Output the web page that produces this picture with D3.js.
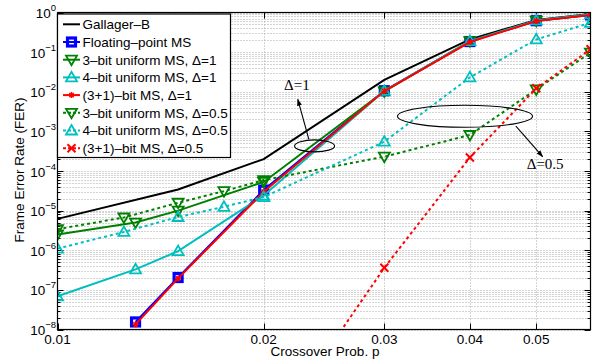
<!DOCTYPE html>
<html>
<head>
<meta charset="utf-8">
<script src="https://cdn.jsdelivr.net/npm/d3@7"></script>
<style>
  body { margin: 0; background: #fff; }
  svg { display: block; font-family: "Liberation Sans", Arial, sans-serif; }
</style>
</head>
<body>
<div id="chart"></div>
<script>
// crossover probabilities used by the different runs
const pGallager = [0.01, 0.015, 0.02, 0.03, 0.04, 0.05, 0.06];
const pFloat = [0.013, 0.015, 0.02, 0.03, 0.04, 0.05, 0.06];
const pDelta1 = [0.01, 0.013, 0.015, 0.02, 0.03, 0.04, 0.05, 0.06];
const pDelta05 = [0.01, 0.0125, 0.015, 0.0175, 0.02, 0.03, 0.04, 0.05, 0.06];
const pPlus1Delta05 = [0.025, 0.03, 0.04, 0.05, 0.06];

// frame error rates
const ferGallager = [6.2e-6, 3.4e-5, 2.0e-4, 0.02, 0.21, 0.65, 0.92];
const ferFloat = [1.55e-8, 2.05e-7, 3.3e-5, 0.0106, 0.185, 0.62, 0.87];
const fer3bitD1 = [2.5e-6, 5.0e-6, 1.0e-5, 5.3e-5, 0.0102, 0.19, 0.62, 0.88];
const fer4bitD1 = [6.9e-8, 3.3e-7, 9.5e-7, 2.4e-5, 0.0105, 0.19, 0.63, 0.9];
const ferPlus1D1 = [1.35e-8, 1.95e-7, 3.0e-5, 0.0104, 0.18, 0.61, 0.87];
const fer3bitD05 = [3.4e-6, 6.7e-6, 1.58e-5, 3.1e-5, 5.9e-5, 2.3e-4, 8.1e-4, 0.0115, 0.097];
const fer4bitD05 = [1.1e-6, 2.9e-6, 6.9e-6, 1.25e-5, 2.2e-5, 5.5e-4, 0.023, 0.21, 0.55];
const ferPlus1D05 = [3.7e-9, 3.6e-7, 2.2e-4, 0.0122, 0.118];

const xTicks = [0.01, 0.02, 0.03, 0.04, 0.05];
const yDecades = [-8, -7, -6, -5, -4, -3, -2, -1, 0];

const GREEN = "#008000", CYAN = "#00bfbf";

const series = [
  { name: "Gallager\u2013B", p: pGallager, fer: ferGallager, color: "#000", dash: null, marker: null },
  { name: "Floating\u2013point MS", p: pFloat, fer: ferFloat, color: "#0000ff", dash: null, marker: "square" },
  { name: "3\u2013bit uniform MS, \u0394=1", p: pDelta1, fer: fer3bitD1, color: GREEN, dash: null, marker: "tridown" },
  { name: "4\u2013bit uniform MS, \u0394=1", p: pDelta1, fer: fer4bitD1, color: CYAN, dash: null, marker: "triup" },
  { name: "(3+1)\u2013bit MS, \u0394=1", p: pFloat, fer: ferPlus1D1, color: "#ff0000", dash: null, marker: "star" },
  { name: "3\u2013bit uniform MS, \u0394=0.5", p: pDelta05, fer: fer3bitD05, color: GREEN, dash: "3,3", marker: "tridown" },
  { name: "4\u2013bit uniform MS, \u0394=0.5", p: pDelta05, fer: fer4bitD05, color: CYAN, dash: "3,3", marker: "triup" },
  { name: "(3+1)\u2013bit MS, \u0394=0.5", p: pPlus1Delta05, fer: ferPlus1D05, color: "#ff0000", dash: "3,3", marker: "x" }
];

const width = 602, height = 364;
const plotLeft = 57.5, plotRight = 590.5, plotTop = 12.5, plotBottom = 329.5;

const x = d3.scaleLog().domain([0.01, 0.06]).range([plotLeft, plotRight]);
const y = d3.scaleLog().domain([1e-8, 1]).range([plotBottom, plotTop]);

const svg = d3.select("#chart").append("svg")
  .attr("width", width)
  .attr("height", height);

const defs = svg.append("defs");
defs.append("clipPath").attr("id", "plot")
  .append("rect")
  .attr("x", plotLeft).attr("y", plotTop)
  .attr("width", plotRight - plotLeft).attr("height", plotBottom - plotTop);

defs.append("marker")
  .attr("id", "arrow")
  .attr("viewBox", "0 0 10 10")
  .attr("refX", 9).attr("refY", 5)
  .attr("markerWidth", 7).attr("markerHeight", 7)
  .attr("markerUnits", "userSpaceOnUse")
  .attr("orient", "auto")
  .append("path")
  .attr("d", "M0,1.5 L10,5 L0,8.5 Z")
  .attr("fill", "#000");

// grid: every 1..9 x decade, dotted
const gridY = [];
yDecades.forEach(e => {
  if (e === 0) { gridY.push(1); return; }
  d3.range(1, 10).forEach(k => gridY.push(k * Math.pow(10, e)));
});
const grid = svg.append("g")
  .attr("stroke", "#a8a8a8")
  .attr("stroke-width", 1)
  .attr("stroke-dasharray", "1,2");
grid.selectAll("line.gy").data(gridY).join("line")
  .attr("class", "gy")
  .attr("x1", plotLeft).attr("x2", plotRight)
  .attr("y1", d => Math.round(y(d)) + 0.5)
  .attr("y2", d => Math.round(y(d)) + 0.5);
grid.selectAll("line.gx").data(xTicks.slice(1)).join("line")
  .attr("class", "gx")
  .attr("y1", plotTop).attr("y2", plotBottom)
  .attr("x1", d => Math.round(x(d)) + 0.5)
  .attr("x2", d => Math.round(x(d)) + 0.5);

// ticks (inside, mirrored)
const ticks = svg.append("g").attr("stroke", "#000").attr("stroke-width", 1);
gridY.forEach(v => {
  const yy = Math.round(y(v)) + 0.5;
  const len = Math.abs(Math.log10(v) - Math.round(Math.log10(v))) < 1e-9 ? 6 : 3;
  ticks.append("line").attr("x1", plotLeft).attr("x2", plotLeft + len).attr("y1", yy).attr("y2", yy);
  ticks.append("line").attr("x1", plotRight).attr("x2", plotRight - len).attr("y1", yy).attr("y2", yy);
});
xTicks.forEach(v => {
  const xx = Math.round(x(v)) + 0.5;
  ticks.append("line").attr("x1", xx).attr("x2", xx).attr("y1", plotBottom).attr("y2", plotBottom - 6);
  ticks.append("line").attr("x1", xx).attr("x2", xx).attr("y1", plotTop).attr("y2", plotTop + 6);
});

// y tick labels 10^n
const yLab = svg.append("g").attr("font-size", 13.5).attr("text-anchor", "end");
yDecades.forEach(e => {
  const t = yLab.append("text")
    .attr("x", 56)
    .attr("y", y(Math.pow(10, e)) + 5.5);
  t.append("tspan").text("10");
  t.append("tspan").attr("font-size", 9.5).attr("dy", -7)
    .text(e < 0 ? "\u2212" + (-e) : String(e));
});

// x tick labels
svg.append("g").attr("font-size", 13.5).attr("text-anchor", "middle")
  .selectAll("text").data(xTicks).join("text")
  .attr("x", d => x(d))
  .attr("y", 344)
  .text(d => d.toFixed(2));

svg.append("text")
  .attr("x", 325).attr("y", 356)
  .attr("font-size", 13.5).attr("text-anchor", "middle")
  .text("Crossover Prob. p");

svg.append("text")
  .attr("transform", "translate(24,170) rotate(-90)")
  .attr("font-size", 13.5).attr("text-anchor", "middle")
  .text("Frame Error Rate (FER)");

function drawMarker(g, type, color) {
  if (type === "square") {
    g.append("rect").attr("x", -4).attr("y", -4).attr("width", 8).attr("height", 8)
      .attr("fill", "none").attr("stroke", color).attr("stroke-width", 3.2);
  } else if (type === "tridown") {
    g.append("path").attr("d", "M-5.5,-4 L5.5,-4 L0,5.5 Z")
      .attr("fill", "none").attr("stroke", color).attr("stroke-width", 1.8);
  } else if (type === "triup") {
    g.append("path").attr("d", "M-5.5,4 L5.5,4 L0,-5.5 Z")
      .attr("fill", "none").attr("stroke", color).attr("stroke-width", 1.8);
  } else if (type === "star") {
    g.append("path").attr("d", "M-3,0 L3,0 M0,-3 L0,3 M-2.2,-2.2 L2.2,2.2 M-2.2,2.2 L2.2,-2.2")
      .attr("stroke", color).attr("stroke-width", 1.4);
  } else if (type === "x") {
    g.append("path").attr("d", "M-4,-4 L4,4 M-4,4 L4,-4")
      .attr("stroke", color).attr("stroke-width", 2);
  }
}

const line = d3.line().x(d => x(d[0])).y(d => y(d[1]));
const plot = svg.append("g").attr("clip-path", "url(#plot)");

series.forEach(s => {
  const pts = s.p.map((p, i) => [p, s.fer[i]]);
  plot.append("path")
    .datum(pts)
    .attr("d", line)
    .attr("fill", "none")
    .attr("stroke", s.color)
    .attr("stroke-width", 2)
    .attr("stroke-dasharray", s.dash);
  if (s.marker) {
    pts.forEach(d => {
      const g = plot.append("g").attr("transform", `translate(${x(d[0])},${y(d[1])})`);
      drawMarker(g, s.marker, s.color);
    });
  }
});

// annotations: ellipses, arrows and labels
const notes = svg.append("g").attr("fill", "none").attr("stroke", "#000").attr("stroke-width", 1.1);
notes.append("ellipse")
  .attr("cx", x(0.02373)).attr("cy", y(4.3e-4)).attr("rx", 20).attr("ry", 6);
notes.append("line")
  .attr("x1", x(0.02328)).attr("y1", y(6.3e-4))
  .attr("x2", x(0.02243)).attr("y2", y(6.4e-3))
  .attr("marker-end", "url(#arrow)");
notes.append("ellipse")
  .attr("cx", x(0.03935)).attr("cy", y(2.4e-3)).attr("rx", 67.5).attr("ry", 11);
notes.append("line")
  .attr("x1", x(0.04669)).attr("y1", y(1.36e-3))
  .attr("x2", x(0.05108)).attr("y2", y(2.3e-4))
  .attr("marker-end", "url(#arrow)");

const ann = svg.append("g")
  .attr("font-family", "'Liberation Serif', 'DejaVu Serif', serif")
  .attr("font-size", 15).attr("text-anchor", "middle").attr("fill", "#000");
ann.append("text").attr("x", x(0.02236)).attr("y", y(0.011)).text("\u0394=1");
ann.append("text").attr("x", x(0.05152)).attr("y", y(1.1e-4)).text("\u0394=0.5");

// axes box
svg.append("rect")
  .attr("x", plotLeft).attr("y", plotTop)
  .attr("width", plotRight - plotLeft).attr("height", plotBottom - plotTop)
  .attr("fill", "none").attr("stroke", "#000").attr("stroke-width", 1.2);

// legend
const legend = svg.append("g");
legend.append("rect")
  .attr("x", plotLeft).attr("y", 14).attr("width", 173).attr("height", 143.5)
  .attr("fill", "#fff").attr("stroke", "#000").attr("stroke-width", 1.2);
series.forEach((s, i) => {
  const ly = 24.3 + i * 17.7;
  const g = legend.append("g");
  g.append("line")
    .attr("x1", 63).attr("x2", 80).attr("y1", ly).attr("y2", ly)
    .attr("stroke", s.color).attr("stroke-width", 2)
    .attr("stroke-dasharray", s.dash ? "3,2" : null);
  if (s.marker) {
    drawMarker(g.append("g").attr("transform", `translate(71.5,${ly})`), s.marker, s.color);
  }
  g.append("text")
    .attr("x", 82.5).attr("y", ly + 4.8)
    .attr("font-size", 13.5)
    .text(s.name);
});
</script>
</body>
</html>
